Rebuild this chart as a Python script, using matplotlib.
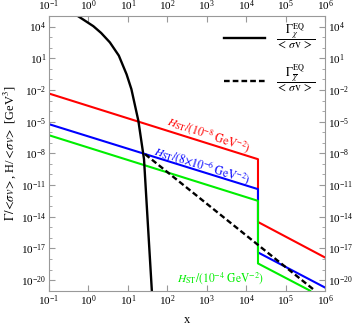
import numpy as np
import matplotlib
matplotlib.use('Agg')
import matplotlib.pyplot as plt
from matplotlib.ticker import LogLocator, NullFormatter

plt.rcParams['font.family'] = 'serif'
plt.rcParams['font.serif'] = ['Liberation Serif', 'DejaVu Serif']
plt.rcParams['mathtext.fontset'] = 'stix'

# equilibrium rate / <sigma v>
x_eq = [0.50, 1.33, 2.1, 3.5, 5.9, 9.3, 12.3, 18.5, 25.7, 32.2, 40.5]
y_eq = [1.2e5, 1.1e4, 2.5e3, 3.2e2, 18.0, 0.30, 1.2e-2, 1.2e-5, 2.8e-9, 2.0e-15, 1.2e-21]

# anti-particle branch (dashed)
x_bar = [27.4, 5.6e5]
y_bar = [8.3e-9, 1.0e-21]

# H_ST / <sigma v> for three values
x_h = [0.1, 2e4, 2e4, 1e6]
y_red = [4.6e-3, 2.8e-9, 3.2e-15, 1.4e-18]
y_blue = [5.8e-6, 4.1e-12, 4.2e-18, 2.0e-21]
x_green = [0.1, 2e4, 2e4, 4.2e5]
y_green = [5.2e-7, 3.2e-13, 3.8e-19, 1.0e-21]

fig = plt.figure(figsize=(3.54, 3.27), dpi=100)
ax = fig.add_axes([0.1384, 0.111, 0.918 - 0.1384, 0.951 - 0.111])

ax.plot(x_h, y_red, color='#ff0000', lw=1.5)
ax.plot(x_h, y_blue, color='#0000ff', lw=1.5)
ax.plot(x_green, y_green, color='#00ee00', lw=1.5)
ax.plot(x_eq, y_eq, color='black', lw=1.7,
        label=r'$\dfrac{\Gamma_{\chi}^{\rm EQ}}{<\,\sigma{\rm v}\,>}$')
ax.plot(x_bar, y_bar, color='black', lw=1.7, ls=(0, (2.4, 1.3)),
        label=r'$\dfrac{\Gamma_{\overline{\chi}}^{\rm EQ}}{<\,\sigma{\rm v}\,>}$')

ax.set_xscale('log')
ax.set_yscale('log')
ax.set_xlim(1e-1, 1e6)
ax.set_ylim(1e-21, 1e5)

ax.xaxis.set_major_locator(LogLocator(base=10, numticks=20))
ax.xaxis.set_minor_locator(LogLocator(base=10, subs=(), numticks=20))
ax.set_yticks([10.0 ** k for k in range(-20, 5, 3)])
ax.yaxis.set_minor_locator(LogLocator(base=10, numticks=40))
ax.yaxis.set_minor_formatter(NullFormatter())

for s in ax.spines.values():
    s.set_color('#999999')
ax.tick_params(which='both', direction='in', top=True, right=True,
               labeltop=True, labelright=True, color='#999999',
               labelsize=8, pad=2)
ax.tick_params(which='major', length=4)
ax.tick_params(which='minor', length=2)

ax.set_xlabel('x', fontsize=9)
ax.set_ylabel(r'$\Gamma/\!<\!\sigma v\!>$, H/$<\!\sigma v\!>$ [GeV$^3$]', fontsize=9, labelpad=2)

ax.text(93, 5.8e-6, r'$H_{\rm ST}/(10^{-8}\ {\rm GeV}^{-2})$', color='#ff0000',
        fontsize=8.3, rotation=-19, rotation_mode='anchor', ha='left', va='baseline')
ax.text(44, 8.3e-9, r'$H_{\rm ST}/(8{\times}10^{-6}\ {\rm GeV}^{-2})$', color='#0000ff',
        fontsize=8.3, rotation=-17.5, rotation_mode='anchor', ha='left', va='baseline')
ax.text(178, 6.5e-21, r'$H_{\rm ST}/(10^{-4}\ {\rm GeV}^{-2})$', color='#00ee00',
        fontsize=8.3, ha='left', va='baseline')

ax.legend(loc='upper right', frameon=False, fontsize=8.5, handlelength=3.5,
          labelspacing=1.0, borderaxespad=0, borderpad=0, handletextpad=0.95,
          bbox_to_anchor=(0.967, 0.98))

fig.savefig('out.png', dpi=100)
